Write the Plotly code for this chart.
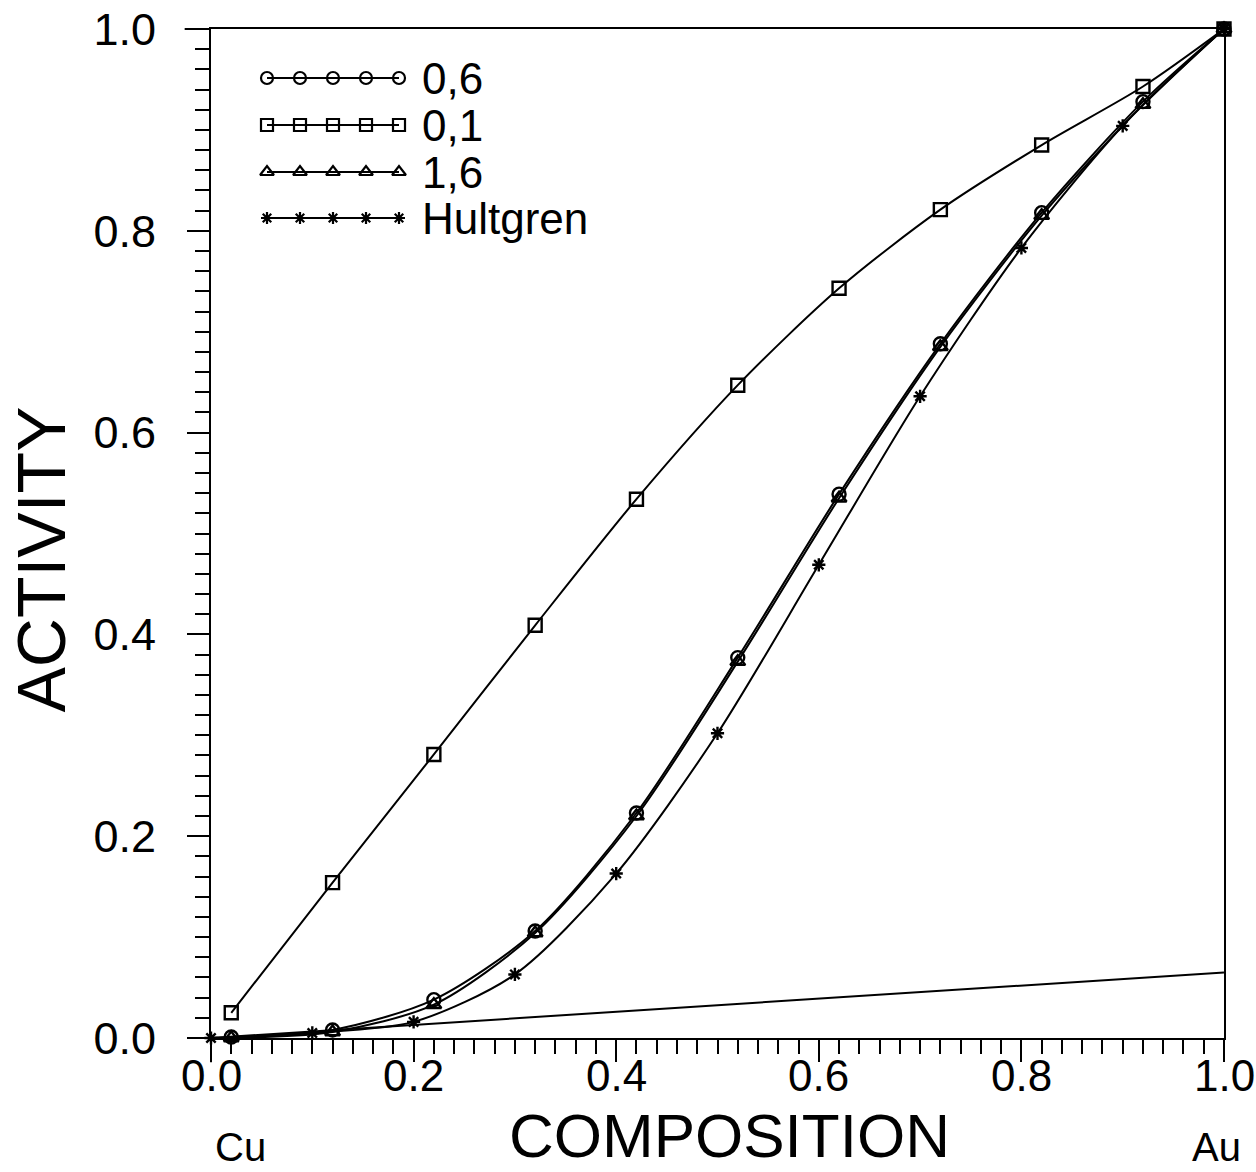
import plotly.graph_objects as go

# ---------------- data ----------------
x_calc = [0.02, 0.12, 0.22, 0.32, 0.42, 0.52, 0.62, 0.72, 0.82, 0.92, 1.0]
y_06 = [0.001, 0.008, 0.038, 0.106, 0.223, 0.377, 0.539, 0.688, 0.818, 0.928, 1.0]
y_01 = [0.025, 0.154, 0.281, 0.409, 0.534, 0.647, 0.743, 0.821, 0.885, 0.943, 1.0]
y_16 = [0.0, 0.006, 0.033, 0.104, 0.220, 0.373, 0.535, 0.685, 0.815, 0.925, 1.0]

x_hult = [0.0, 0.1, 0.2, 0.3, 0.4, 0.5, 0.6, 0.7, 0.8, 0.9, 1.0]
y_hult = [0.0, 0.005, 0.016, 0.063, 0.163, 0.302, 0.469, 0.636, 0.783, 0.904, 1.0]

x_ideal = [0.0, 1.0]
y_ideal = [0.0, 0.065]

series_names = ["0,6", "0,1", "1,6", "Hultgren"]
x_ticks = [0.0, 0.2, 0.4, 0.6, 0.8, 1.0]
x_ticktext = ["0.0", "0.2", "0.4", "0.6", "0.8", "1.0"]
y_ticks = [0.0, 0.2, 0.4, 0.6, 0.8, 1.0]
y_ticktext = ["0.0", "0.2", "0.4", "0.6", "0.8", "1.0"]

# ---------------- style ----------------
FONT = "Liberation Sans"
BLACK = "black"
W, H = 1256, 1172
L, R, T, B = 211, 32, 29, 134
symbols = ["circle-open", "square-open", "triangle-up-open", "asterisk-open"]
msizes = [13, 13, 13, 11]

fig = go.Figure()

series = [(x_calc, y_06), (x_calc, y_01), (x_calc, y_16), (x_hult, y_hult)]
for (xs, ys), name, sym, ms in zip(series, series_names, symbols, msizes):
    fig.add_trace(go.Scatter(
        x=xs, y=ys, name=name, mode="lines+markers",
        line=dict(color=BLACK, width=2, shape="spline", smoothing=0.8),
        marker=dict(symbol=sym, size=ms, color=BLACK, line=dict(color=BLACK, width=2.4)),
        cliponaxis=False, showlegend=False,
    ))

fig.add_trace(go.Scatter(
    x=x_ideal, y=y_ideal, mode="lines", line=dict(color=BLACK, width=2),
    showlegend=False, hoverinfo="skip",
))

# ---------------- custom legend (pixel overlay axes) ----------------
LEG_X0, LEG_DX, LEG_N = 267, 33, 5
LEG_ROWS = [78, 125, 172, 218]
LEG_TEXT_X = 420
for row_y, name, sym, ms in zip(LEG_ROWS, series_names, symbols, msizes):
    xs = [LEG_X0 + i * LEG_DX for i in range(LEG_N)]
    fig.add_trace(go.Scatter(
        x=xs, y=[row_y] * LEG_N, xaxis="x2", yaxis="y2", mode="lines+markers",
        line=dict(color=BLACK, width=2),
        marker=dict(symbol=sym, size=ms - 1, color=BLACK, line=dict(color=BLACK, width=2.2)),
        showlegend=False, hoverinfo="skip", cliponaxis=False,
    ))
    fig.add_annotation(x=LEG_TEXT_X, y=row_y, xref="x2", yref="y2", text=name,
                       showarrow=False, xanchor="left", yanchor="middle",
                       font=dict(family=FONT, size=44, color=BLACK))

axis_common = dict(
    showgrid=False, zeroline=False, showline=True, linewidth=2, linecolor=BLACK,
    mirror=True, ticks="outside", ticklen=22, tickwidth=2, tickcolor=BLACK,
    tickfont=dict(family=FONT, size=45, color=BLACK), automargin=False,
    minor=dict(ticks="outside", dtick=0.02, ticklen=14, tickwidth=2, tickcolor=BLACK),
)

fig.update_layout(
    width=W, height=H,
    margin=dict(l=L, r=R, t=T, b=B),
    paper_bgcolor="white", plot_bgcolor="white",
    showlegend=False,
    xaxis=dict(range=[0, 1], tickvals=x_ticks, showticklabels=False, **axis_common),
    yaxis=dict(range=[0, 1], tickvals=y_ticks, ticktext=y_ticktext,
               ticklabelstandoff=22, **axis_common),
    xaxis2=dict(overlaying="x", range=[L, W - R], visible=False, automargin=False),
    yaxis2=dict(overlaying="y", range=[H - B, T], visible=False, automargin=False),
)

# x tick labels, placed on the x scale
for tv, tt in zip(x_ticks, x_ticktext):
    fig.add_annotation(x=tv, y=-0.0367, xref="x", yref="paper", text=tt,
                       showarrow=False, xanchor="center", yanchor="middle", borderpad=0,
                       font=dict(family=FONT, size=44, color=BLACK))

# axis line extensions (frame crossing)
ext = [
    dict(x0=-0.026, x1=0, y0=1, y1=1),     # top line extends left
    dict(x0=-0.021, x1=0, y0=0, y1=0),     # x axis extends left
    dict(x0=0, x1=0, y0=-0.024, y1=0),     # y axis extends down
    dict(x0=1, x1=1, y0=-0.019, y1=0),     # right line extends down
]
for e in ext:
    fig.add_shape(type="line", xref="paper", yref="paper",
                  line=dict(color=BLACK, width=2), **e)

# titles and end labels
fig.add_annotation(text="ACTIVITY", xref="paper", yref="paper", x=-0.168, y=0.474,
                   textangle=-90, showarrow=False, xanchor="center", yanchor="middle",
                   font=dict(family=FONT, size=68, color=BLACK))
fig.add_annotation(text="COMPOSITION", xref="paper", yref="paper", x=0.512, y=-0.0971,
                   showarrow=False, xanchor="center", yanchor="middle", borderpad=0,
                   font=dict(family=FONT, size=62, color=BLACK))
fig.add_annotation(text="Cu", xref="paper", yref="paper", x=0.029, y=-0.108,
                   showarrow=False, xanchor="center", yanchor="middle",
                   font=dict(family=FONT, size=40, color=BLACK))
fig.add_annotation(text="Au", xref="paper", yref="paper", x=0.993, y=-0.108,
                   showarrow=False, xanchor="center", yanchor="middle",
                   font=dict(family=FONT, size=40, color=BLACK))

fig.write_html("out.html")
